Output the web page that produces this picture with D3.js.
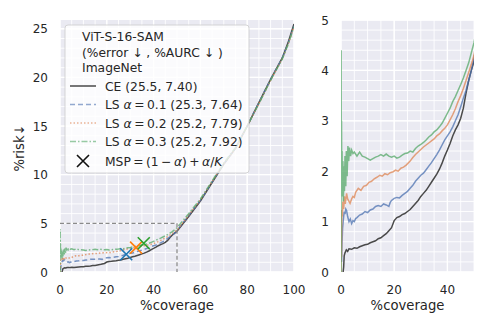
<!DOCTYPE html>
<html>
<head>
<meta charset="utf-8">
<script src="https://cdn.jsdelivr.net/npm/d3@7"></script>
<style>
  body { margin: 0; background: #fff; }
  svg { font-family: "DejaVu Sans", sans-serif; }
  .tick-label { font-size: 12px; fill: #262626; }
  .ax-label { font-size: 13.2px; fill: #262626; }
  .leg { font-size: 12.3px; fill: #262626; }
</style>
</head>
<body>
<svg id="chart" width="490" height="327"></svg>
<script>
// risk-coverage curves, [coverage %, risk %]
const ceCurve = [[0.8,0],[1,0.1],[1.2,0.32],[1.5,0.38],[2,0.44],[2.5,0.41],[3,0.46],[4,0.45],[5,0.48],[6,0.47],[7,0.5],[8,0.52],[9,0.54],[10,0.55],[11,0.58],[12,0.6],[13,0.62],[14,0.66],[15,0.68],[16,0.72],[17,0.76],[18,0.82],[19,0.88],[20,1.02],[21,1.08],[22,1.1],[23,1.14],[24,1.16],[25,1.2],[26,1.24],[27,1.3],[28,1.36],[29,1.42],[30,1.5],[31,1.56],[32,1.62],[33,1.7],[34,1.78],[35,1.86],[36,1.94],[37,2.04],[38,2.16],[39,2.3],[40,2.42],[41,2.55],[42,2.7],[43,2.82],[44,2.92],[45,3.05],[46,3.25],[47,3.55],[48,3.8],[49,4.0],[50,4.18],[55,5.7],[60,7.3],[65,9.2],[70,11.1],[75,12.7],[80,15.0],[85,17.4],[90,19.8],[95,22.0],[97.5,23.6],[100,25.5]];
const ls01Curve = [[0.2,0.2],[0.4,0.6],[0.6,0.87],[0.9,1.05],[1.2,1.2],[1.5,1.15],[1.8,1.25],[2.1,1.22],[2.5,1.1],[3,1.0],[3.5,1.05],[4,0.96],[4.5,1.02],[5,1.0],[5.5,1.06],[6,1.08],[7,1.13],[8,1.15],[9,1.2],[10,1.18],[11,1.23],[12,1.25],[13,1.3],[14,1.32],[15,1.3],[16,1.35],[17,1.33],[18,1.3],[18.5,1.38],[19,1.42],[20,1.46],[21,1.48],[22,1.47],[23,1.52],[24,1.56],[25,1.6],[26,1.66],[27,1.72],[28,1.8],[29,1.86],[30,1.92],[31,1.96],[32,2.03],[33,2.1],[34,2.17],[35,2.25],[36,2.33],[37,2.42],[38,2.52],[39,2.62],[40,2.7],[41,2.78],[42,2.88],[43,3.0],[44,3.12],[45,3.28],[46,3.45],[47,3.6],[48,3.8],[49,4.0],[50,4.25],[55,5.8],[60,7.35],[65,9.25],[70,11.1],[75,12.7],[80,15.0],[85,17.4],[90,19.8],[95,22.0],[97.5,23.5],[100,25.3]];
const ls02Curve = [[0,0],[0.1,0.8],[0.2,0.3],[0.3,1.23],[0.5,1.1],[0.7,1.4],[1.0,1.25],[1.3,1.5],[1.6,1.35],[2.1,1.56],[2.5,1.45],[3,1.4],[3.4,1.36],[4,1.45],[4.5,1.5],[5,1.48],[5.5,1.58],[6.5,1.66],[7.5,1.62],[8.5,1.7],[9.6,1.72],[10.5,1.78],[11.5,1.8],[12.5,1.85],[13.5,1.88],[14.6,1.92],[15.5,1.9],[16.5,1.95],[17.5,1.93],[18.5,1.97],[19.6,1.99],[20.5,2.02],[21.5,2.0],[22.5,2.06],[23.5,2.08],[24.5,2.12],[26,2.2],[27,2.27],[28,2.33],[29,2.38],[30,2.43],[31,2.48],[32,2.52],[33,2.56],[34,2.6],[35,2.64],[36,2.7],[37,2.74],[38,2.8],[39,2.85],[40,2.92],[41,3.02],[42,3.12],[43,3.24],[44,3.38],[45,3.5],[46,3.64],[47,3.8],[48,3.96],[49,4.12],[50,4.3],[55,5.85],[60,7.4],[65,9.3],[70,11.1],[75,12.7],[80,15.0],[85,17.3],[90,19.7],[95,21.9],[97.5,23.4],[100,25.2]];
const ls03Curve = [[0,0],[0.05,4.4],[0.1,2.0],[0.2,3.0],[0.3,1.6],[0.4,2.4],[0.5,1.5],[0.7,2.2],[0.9,1.4],[1.1,2.1],[1.3,1.6],[1.5,2.3],[1.8,1.7],[2.0,2.4],[2.3,1.9],[2.6,2.5],[2.9,2.2],[3.2,2.47],[3.6,2.3],[4.0,2.42],[4.5,2.35],[5,2.38],[6,2.3],[7,2.38],[8,2.3],[9,2.28],[10,2.25],[11,2.22],[12,2.25],[13,2.28],[14,2.3],[15,2.33],[16,2.3],[17,2.34],[18,2.3],[19,2.28],[20,2.3],[21,2.26],[22,2.28],[23,2.32],[24,2.35],[25,2.36],[26,2.4],[27,2.38],[28,2.45],[29,2.5],[30,2.53],[31,2.57],[32,2.62],[33,2.68],[34,2.72],[35,2.78],[36,2.82],[37,2.88],[38,2.95],[39,3.05],[40,3.15],[41,3.25],[42,3.38],[43,3.48],[44,3.6],[45,3.72],[46,3.85],[47,4.0],[48,4.15],[49,4.35],[50,4.55],[55,6.0],[60,7.5],[65,9.35],[70,11.2],[75,12.8],[80,15.0],[85,17.3],[90,19.7],[95,21.9],[97.5,23.4],[100,25.2]];

const seriesNames = ["CE (25.5, 7.40)", "0.1 (25.3, 7.64)", "0.2 (25.2, 7.79)", "0.3 (25.2, 7.92)"];
const seriesCurves = [ceCurve, ls01Curve, ls02Curve, ls03Curve];
const seriesColors = ["#4a4a4a", "#4C72B0", "#DD8452", "#55A868"];
const seriesDash = [null, "5,3", "1.5,2", "6,2,1.5,2"];

// MSP operating points for LS 0.1 / 0.2 / 0.3
const mspCoverage = [28.3, 32.5, 35.8];
const mspRisk = [1.82, 2.5, 2.95];
const mspColors = ["#1f77b4", "#ff7f0e", "#2ca02c"];

const svg = d3.select("#chart");

function panel(id, xDom, yDom, xr, yr, xTicks, yTicks, xMinor, yMinor, dashed) {
  const x = d3.scaleLinear().domain(xDom).range(xr);
  const y = d3.scaleLinear().domain(yDom).range(yr);
  const g = svg.append("g");
  g.append("rect").attr("x", xr[0]).attr("y", yr[1])
    .attr("width", xr[1] - xr[0]).attr("height", yr[0] - yr[1]).attr("fill", "#EAEAF2");
  // minor + major grid
  g.selectAll(".vm").data(xMinor).join("line")
    .attr("x1", d => x(d)).attr("x2", d => x(d)).attr("y1", yr[0]).attr("y2", yr[1])
    .attr("stroke", "#fff").attr("stroke-width", 0.9);
  g.selectAll(".hm").data(yMinor).join("line")
    .attr("y1", d => y(d)).attr("y2", d => y(d)).attr("x1", xr[0]).attr("x2", xr[1])
    .attr("stroke", "#fff").attr("stroke-width", 0.9);
  g.selectAll(".vM").data(xTicks).join("line")
    .attr("x1", d => x(d)).attr("x2", d => x(d)).attr("y1", yr[0]).attr("y2", yr[1])
    .attr("stroke", "#fff").attr("stroke-width", 1.3);
  g.selectAll(".hM").data(yTicks).join("line")
    .attr("y1", d => y(d)).attr("y2", d => y(d)).attr("x1", xr[0]).attr("x2", xr[1])
    .attr("stroke", "#fff").attr("stroke-width", 1.3);

  g.selectAll(".xl").data(xTicks).join("text").attr("class", "tick-label")
    .attr("x", d => x(d)).attr("y", yr[0] + 22).attr("text-anchor", "middle").text(d => d);
  g.selectAll(".yl").data(yTicks).join("text").attr("class", "tick-label")
    .attr("x", xr[0] - 12).attr("y", d => y(d) + 4.5).attr("text-anchor", "end").text(d => d);

  g.append("text").attr("class", "ax-label").attr("x", (xr[0] + xr[1]) / 2).attr("y", yr[0] + 38)
    .attr("text-anchor", "middle").text("%coverage");

  svg.append("clipPath").attr("id", id).append("rect")
    .attr("x", xr[0]).attr("y", yr[1]).attr("width", xr[1] - xr[0]).attr("height", yr[0] - yr[1]);
  const line = d3.line().x(d => x(d[0])).y(d => y(d[1]));
  const lg = g.append("g").attr("clip-path", `url(#${id})`);
  seriesCurves.forEach((c, i) => {
    lg.append("path").datum(c).attr("d", line).attr("fill", "none")
      .attr("stroke", seriesColors[i]).attr("stroke-width", 1.5)
      .attr("stroke-opacity", i === 0 ? 1 : 0.75)
      .attr("stroke-dasharray", dashed ? seriesDash[i] : null);
  });
  return { x, y, g };
}

const left = panel("clipL", [0, 100], [0, 25.9], [60, 294], [272, 20],
  d3.range(0, 101, 20), d3.range(0, 26, 5), d3.range(0, 101, 5), d3.range(0, 26, 1), true);
const right = panel("clipR", [0, 50], [0, 5], [341, 474], [272, 20],
  [0, 20, 40], d3.range(0, 6, 1), d3.range(0, 51, 5), d3.range(0, 5.01, 0.2), false);

// zoom region outline
left.g.append("path")
  .attr("d", `M${left.x(0)},${left.y(5)}H${left.x(50)}V${left.y(0)}`)
  .attr("fill", "none").attr("stroke", "#8a8a8a").attr("stroke-width", 1.3).attr("stroke-dasharray", "4,2.5");

// MSP markers
mspCoverage.forEach((c, i) => {
  const cx = left.x(c), cy = left.y(mspRisk[i]), s = 6;
  left.g.append("path").attr("d", `M${cx - s},${cy - s}L${cx + s},${cy + s}M${cx - s},${cy + s}L${cx + s},${cy - s}`)
    .attr("stroke", mspColors[i]).attr("stroke-width", 1.6);
});

// y label
svg.append("text").attr("class", "ax-label").attr("transform", "translate(24,148) rotate(-90)")
  .attr("text-anchor", "middle").text("%risk\u2193\uFE0E");

// legend
const leg = svg.append("g");
leg.append("rect").attr("x", 65).attr("y", 25).attr("width", 184).attr("height", 148).attr("rx", 3)
  .attr("fill", "#fff").attr("fill-opacity", 0.8).attr("stroke", "#cccccc").attr("stroke-width", 0.8);
["ViT-S-16-SAM", "(%error \u2193\uFE0E , %AURC \u2193\uFE0E )", "ImageNet"].forEach((t, i) => {
  leg.append("text").attr("class", "leg").attr("x", 82).attr("y", 41 + i * 15.5).text(t);
});
const rowY = [86, 104.5, 123, 141.5];
seriesNames.forEach((n, i) => {
  leg.append("line").attr("x1", 70).attr("x2", 96).attr("y1", rowY[i]).attr("y2", rowY[i])
    .attr("stroke", seriesColors[i]).attr("stroke-width", 1.5)
    .attr("stroke-opacity", i === 0 ? 1 : 0.6).attr("stroke-dasharray", seriesDash[i]);
  const t = leg.append("text").attr("class", "leg").attr("x", 105).attr("y", rowY[i] + 4.5);
  if (i === 0) { t.text(n); return; }
  t.append("tspan").text("LS ");
  t.append("tspan").attr("font-style", "italic").text("\u03b1");
  t.append("tspan").text("\u2009=\u2009" + n);
});
const my = 161;
leg.append("path").attr("d", `M77,${my - 6}L89,${my + 6}M77,${my + 6}L89,${my - 6}`)
  .attr("stroke", "#111").attr("stroke-width", 1.6);
const mt = leg.append("text").attr("class", "leg").attr("x", 105).attr("y", my + 4.5);
mt.append("tspan").text("MSP\u2009=\u2009(1\u2009\u2212\u2009");
mt.append("tspan").attr("font-style", "italic").text("\u03b1");
mt.append("tspan").text(")\u2009+\u2009");
mt.append("tspan").attr("font-style", "italic").text("\u03b1");
mt.append("tspan").text("/");
mt.append("tspan").attr("font-style", "italic").text("K");
</script>
</body>
</html>
